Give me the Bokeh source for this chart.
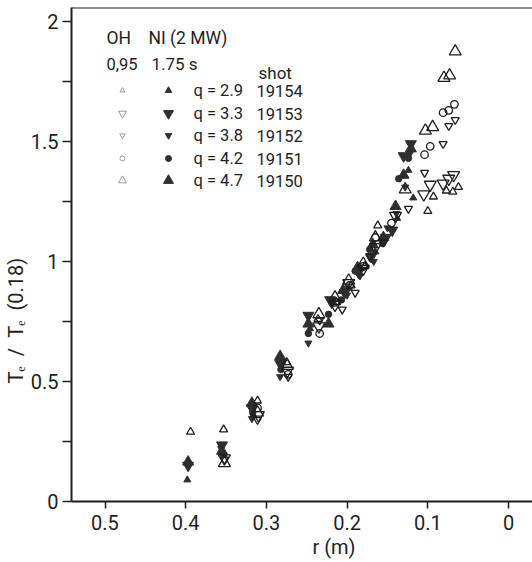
from bokeh.plotting import figure
from bokeh.models import Range1d, FixedTicker, Label, Span, CustomJSTickFormatter, Title
from bokeh.embed import file_html
from bokeh.resources import INLINE

# ---------------- data: r (m) vs Te/Te(0.18) ----------------
# OH phase (t = 0.95 s), open symbols
oh_19150_r = [0.352, 0.311, 0.274, 0.235, 0.215, 0.198, 0.180, 0.165, 0.128, 0.103, 0.094, 0.080, 0.073, 0.066]
oh_19150_y = [0.16, 0.37, 0.565, 0.78, 0.85, 0.92, 0.99, 1.10, 1.30, 1.545, 1.56, 1.765, 1.775, 1.875]
oh_19151_r = [0.311, 0.273, 0.234, 0.215, 0.197, 0.180, 0.165, 0.145, 0.104, 0.097, 0.081, 0.074, 0.067]
oh_19151_y = [0.39, 0.53, 0.70, 0.83, 0.90, 0.98, 1.10, 1.16, 1.445, 1.48, 1.62, 1.63, 1.655]
oh_19152_r = [0.352, 0.311, 0.273, 0.234, 0.206, 0.190, 0.172, 0.155, 0.124, 0.104, 0.081, 0.074, 0.066]
oh_19152_y = [0.175, 0.34, 0.52, 0.755, 0.80, 0.87, 1.02, 1.08, 1.22, 1.37, 1.49, 1.565, 1.59]
oh_19153_r = [0.352, 0.310, 0.274, 0.235, 0.215, 0.198, 0.180, 0.165, 0.140, 0.105, 0.097, 0.081, 0.074, 0.068]
oh_19153_y = [0.18, 0.36, 0.545, 0.73, 0.82, 0.91, 0.97, 1.06, 1.19, 1.28, 1.32, 1.325, 1.345, 1.36]
oh_19154_r = [0.394, 0.353, 0.311, 0.275, 0.236, 0.213, 0.195, 0.178, 0.162, 0.100, 0.093, 0.077, 0.069, 0.062]
oh_19154_y = [0.29, 0.30, 0.42, 0.58, 0.76, 0.83, 0.90, 0.98, 1.15, 1.21, 1.27, 1.295, 1.29, 1.31]

# NI phase (2 MW, t = 1.75 s), filled symbols
ni_19150_r = [0.397, 0.355, 0.318, 0.283, 0.248, 0.223, 0.205, 0.187, 0.168, 0.155, 0.140, 0.130, 0.121]
ni_19150_y = [0.165, 0.21, 0.41, 0.605, 0.74, 0.74, 0.88, 0.975, 1.07, 1.10, 1.23, 1.36, 1.47]
ni_19151_r = [0.353, 0.317, 0.282, 0.248, 0.223, 0.207, 0.190, 0.172, 0.156, 0.136, 0.124]
ni_19151_y = [0.195, 0.37, 0.55, 0.70, 0.78, 0.84, 0.96, 1.05, 1.075, 1.345, 1.43]
ni_19152_r = [0.356, 0.318, 0.283, 0.248, 0.219, 0.200, 0.184, 0.167, 0.150, 0.139, 0.128, 0.122]
ni_19152_y = [0.22, 0.345, 0.52, 0.66, 0.82, 0.86, 0.94, 1.00, 1.14, 1.20, 1.31, 1.45]
ni_19153_r = [0.397, 0.355, 0.318, 0.283, 0.248, 0.221, 0.203, 0.186, 0.170, 0.152, 0.144, 0.130, 0.121]
ni_19153_y = [0.15, 0.235, 0.39, 0.575, 0.775, 0.84, 0.87, 0.955, 1.02, 1.10, 1.13, 1.44, 1.49]
ni_19154_r = [0.398, 0.316, 0.281, 0.246, 0.217, 0.198, 0.183, 0.165, 0.138, 0.124, 0.118]
ni_19154_y = [0.09, 0.36, 0.585, 0.72, 0.83, 0.89, 0.97, 1.04, 1.18, 1.38, 1.265]

shots = ["19154", "19153", "19152", "19151", "19150"]
q_labels = ["q = 2.9", "q = 3.3", "q = 3.8", "q = 4.2", "q = 4.7"]
x_ticks = [0.5, 0.4, 0.3, 0.2, 0.1, 0.0]
y_ticks = [0.0, 0.25, 0.5, 0.75, 1.0, 1.25, 1.5, 1.75, 2.0]

oh_data = {"19154": (oh_19154_r, oh_19154_y), "19153": (oh_19153_r, oh_19153_y),
           "19152": (oh_19152_r, oh_19152_y), "19151": (oh_19151_r, oh_19151_y),
           "19150": (oh_19150_r, oh_19150_y)}
ni_data = {"19154": (ni_19154_r, ni_19154_y), "19153": (ni_19153_r, ni_19153_y),
           "19152": (ni_19152_r, ni_19152_y), "19151": (ni_19151_r, ni_19151_y),
           "19150": (ni_19150_r, ni_19150_y)}

# ---------------- styles ----------------
FONT = "Roboto"
INK = "#1e1e1e"
FILL = "#2e2e2e"
marker_of = {"19154": "triangle", "19153": "inverted_triangle", "19152": "inverted_triangle",
             "19151": "circle", "19150": "triangle"}
size_of = {"19154": 7, "19153": 11, "19152": 7, "19151": 6.5, "19150": 11}

# pixel -> data helpers (layout only)
X0_PX, X_SCALE = 508.0, 807.0
Y0_PX, Y_SCALE = 501.0, 240.0
def dx(px):
    return (X0_PX - px) / X_SCALE
def dy(py):
    return (Y0_PX - py) / Y_SCALE

p = figure(frame_width=461, frame_height=494,
           min_border_left=71, min_border_right=0, min_border_top=7, min_border_bottom=61,
           x_range=Range1d(dx(71), dx(532)), y_range=Range1d(0, dy(7)),
           output_backend="svg", toolbar_location=None)
p.grid.visible = False
p.outline_line_color = None
p.background_fill_color = "white"
p.border_fill_color = "white"

xfmt = CustomJSTickFormatter(code="return String(Math.round(tick * 10) / 10);")
yfmt = CustomJSTickFormatter(code="""
  if (Math.abs(tick * 2 - Math.round(tick * 2)) > 1e-6) return '';
  return String(Math.round(tick * 10) / 10);
""")

for ax in (p.xaxis[0], p.yaxis[0]):
    ax.axis_line_width = 2
    ax.axis_line_color = INK
    ax.major_tick_line_color = INK
    ax.major_tick_line_width = 1.5
    ax.major_tick_in = 0
    ax.minor_tick_line_color = None
    ax.major_label_text_font = FONT
    ax.major_label_text_font_size = "20px"
    ax.major_label_text_color = INK

p.xaxis.ticker = FixedTicker(ticks=x_ticks)
p.xaxis.formatter = xfmt
p.xaxis.major_tick_out = 7
p.xaxis.major_label_standoff = 6
p.yaxis.ticker = FixedTicker(ticks=y_ticks)
p.yaxis.formatter = yfmt
p.yaxis.major_tick_out = 9
p.yaxis.major_label_standoff = 4

# top frame line
p.add_layout(Span(location=dy(7), dimension="width", line_color=INK, line_width=2))

# ---------------- data points ----------------
for s in shots:
    r, y = ni_data[s]
    p.scatter(r, y, marker=marker_of[s], size=size_of[s], fill_color=FILL,
              line_color=FILL, line_width=1)
for s in shots:
    r, y = oh_data[s]
    p.scatter(r, y, marker=marker_of[s], size=size_of[s] + 1, fill_alpha=0,
              line_color=INK, line_width=1.3)

# ---------------- legend block ----------------
def txt(px, py, t, size="16.5px", align="left"):
    p.add_layout(Label(x=dx(px), y=dy(py), text=t, text_font=FONT, text_font_size=size,
                       text_color=INK, text_baseline="middle", text_align=align))

txt(106, 37, "OH", size="17.5px")
txt(148, 37, "NI (2 MW)", size="17.5px")
txt(106, 63, "0,95")
txt(151, 63, "1.75 s", size="17px")
txt(258, 72, "shot", size="17px")
row_py = [90, 113, 135, 158, 180]
leg_open_size = {"19154": 5, "19153": 8, "19152": 5.5, "19151": 5, "19150": 8}
leg_fill_size = {"19154": 6.5, "19153": 10, "19152": 6.5, "19151": 6, "19150": 10}
for s, ql, py in zip(shots, q_labels, row_py):
    p.scatter([dx(122)], [dy(py)], marker=marker_of[s], size=leg_open_size[s],
              fill_alpha=0, line_color="#9a9a9a", line_width=1)
    p.scatter([dx(168)], [dy(py)], marker=marker_of[s], size=leg_fill_size[s],
              fill_color=FILL, line_color=FILL)
    txt(193, py, ql)
    txt(256, py, s)

# ---------------- axis titles (as side titles, offset in pixels) ----------------
xt = Title(text="r (m)", align="left", offset=241, text_font=FONT, text_font_size="20px",
           text_color=INK, text_font_style="normal", standoff=0)
p.add_layout(xt, "below")
yt = Title(text="Tₑ\u2002/\u2002Tₑ\u2002(0.18)", align="left", offset=118, text_font=FONT,
           text_font_size="20px", text_color=INK, text_font_style="normal", standoff=0)
p.add_layout(yt, "left")

open("out.html", "w").write(file_html(p, INLINE))
